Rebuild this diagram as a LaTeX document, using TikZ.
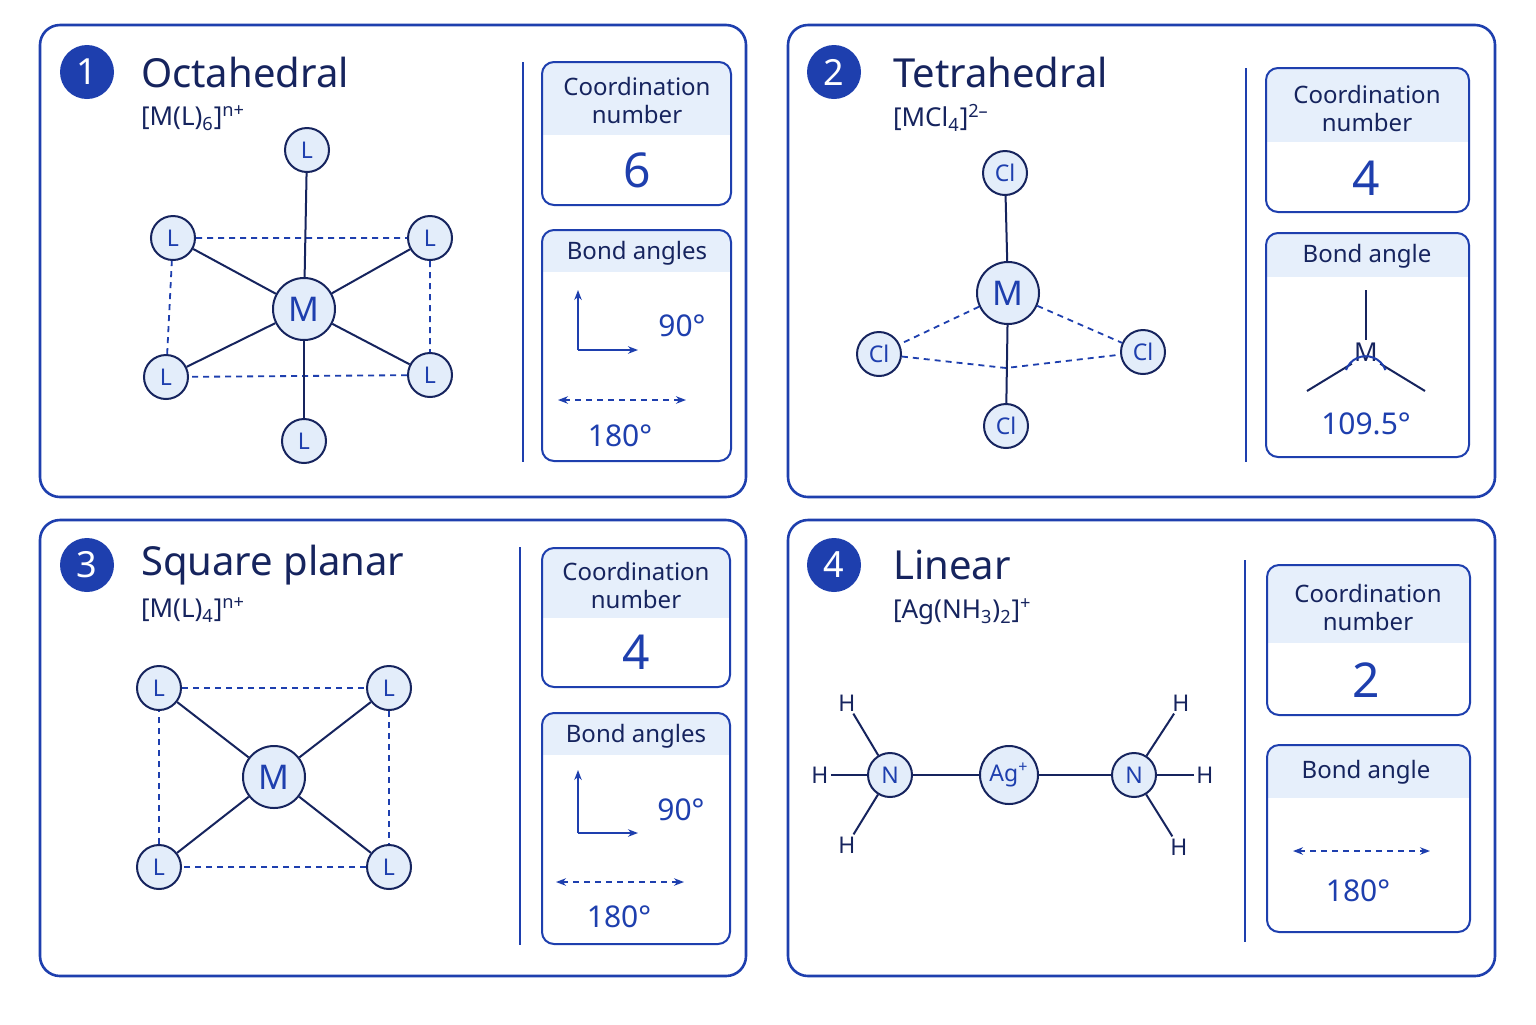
\documentclass[tikz,border=0pt]{standalone}
\usepackage{fontspec}
\setmainfont{Noto Sans}
\usetikzlibrary{arrows.meta}
\definecolor{navy}{HTML}{16245E}
\definecolor{bl}{HTML}{1E3FAE}
\definecolor{hdr}{HTML}{E6EFFB}
\definecolor{nfill}{HTML}{E3EDFA}
\newcommand\ibox[5]{%
  \begin{scope}\clip[rounded corners=6pt] (#1,#2) rectangle (#3,#4);
  \fill[hdr] (#1,#2) rectangle (#3,#5);\end{scope}
  \draw[bl,line width=1pt,rounded corners=6pt] (#1,#2) rectangle (#3,#4);}
\begin{document}
\begin{tikzpicture}[x=0.5pt,y=-0.5pt,
 panel/.style={draw=bl,line width=1.3pt,rounded corners=10pt},
 badge/.style={circle,fill=bl,text=white,minimum size=27pt,inner sep=0,font=\fontsize{18}{18}\selectfont\bfseries},
 title/.style={anchor=west,text=navy,font=\fontsize{20}{20}\selectfont\bfseries},
 formula/.style={anchor=west,text=navy,font=\fontsize{13}{13}\selectfont},
 hd/.style={text=navy,font=\fontsize{12}{14}\selectfont,align=center},
 big/.style={text=bl,font=\fontsize{24}{24}\selectfont\bfseries},
 val/.style={text=bl,font=\fontsize{15}{15}\selectfont},
 atm/.style={circle,draw=navy,line width=1pt,fill=nfill,minimum size=22pt,inner sep=0,text=bl,font=\fontsize{11.5}{12}\selectfont},
 mt/.style={atm,minimum size=31pt,font=\fontsize{17}{17}\selectfont},
 hh/.style={text=navy,inner sep=1pt,font=\fontsize{11.5}{12}\selectfont},
 bond/.style={navy,line width=1pt},
 dsh/.style={bl,line width=0.9pt,dash pattern=on 3pt off 2.5pt},
 div/.style={bl,line width=0.8pt},
 arr/.style={bl,line width=0.9pt,-{Stealth[length=5pt]}},
 darr/.style={dsh,{Stealth[length=5pt]}-{Stealth[length=5pt]}}]
\useasboundingbox (0,0) rectangle (1536,1024);
\fill[white] (0,0) rectangle (1536,1024);
% panels
\draw[panel] (40,25) rectangle (746,497);
\draw[panel] (788,25) rectangle (1495,497);
\draw[panel] (40,520) rectangle (746,976);
\draw[panel] (788,520) rectangle (1495,976);
% ===== Panel 1
\node[badge] (b1) at (87,72) {1};
\node[title] (t1) at (134,72) {Octahedral};
\node[formula] (f1) at (134,118) {[M(L)\textsubscript{6}]\textsuperscript{n+}};
\draw[div] (523,62) -- (523,462);
\ibox{542}{62}{731}{205}{135}
\node[hd] (h1a) at (637,100) {Coordination\\number};
\node[big] (n1) at (637,170) {6};
\ibox{542}{230}{731}{461}{272}
\node[hd] (h1b) at (637,253) {Bond angles};
\coordinate (c1) at (578,350);
\coordinate (c1u) at (578,290);
\coordinate (c1r) at (638,350);
\draw[arr] (c1) -- (c1u); \draw[arr] (c1) -- (c1r);
\node[val] (v1) at (682,326) {90°};
\coordinate (d1a) at (558,400); \coordinate (d1b) at (686,400);
\draw[darr] (d1a) -- (d1b);
\node[val] (v1b) at (620,436) {180°};
\node[mt] (M1) at (304,309) {M};
\node[atm] (L1t) at (307,150) {L};
\node[atm] (L1b) at (304,441) {L};
\node[atm] (L1a) at (173,238) {L};
\node[atm] (L1c) at (430,238) {L};
\node[atm] (L1d) at (166,377) {L};
\node[atm] (L1e) at (430,375) {L};
\draw[dsh] (L1a) -- (L1c) -- (L1e) -- (L1d) -- (L1a);
\draw[bond] (L1t) -- (M1); \draw[bond] (L1b) -- (M1);
\foreach \n in {L1a,L1c,L1d,L1e} \draw[bond] (\n) -- (M1);
% ===== Panel 2
\node[badge] (b2) at (834,72) {2};
\node[title] (t2) at (886,72) {Tetrahedral};
\node[formula] (f2) at (886,118) {[MCl\textsubscript{4}]\textsuperscript{2–}};
\draw[div] (1246,68) -- (1246,462);
\ibox{1266}{68}{1469}{212}{142}
\node[hd] (h2a) at (1367,108) {Coordination\\number};
\node[big] (n2) at (1366,178) {4};
\ibox{1266}{233}{1469}{457}{277}
\node[hd] (h2b) at (1367,256) {Bond angle};
\node[text=navy,inner sep=1pt,font=\fontsize{13}{13}\selectfont] (m2) at (1366,352) {M};
\coordinate (m2t) at (1366,290);
\coordinate (m2l) at (1307,391);
\coordinate (m2r) at (1425,391);
\draw[bond] (m2t) -- (m2.north);
\draw[bond] (m2l) -- (m2.south west);
\draw[bond] (m2r) -- (m2.south east);
\draw[bl,line width=1pt] (1346,370) arc[start angle=200,end angle=340,radius=21];
\node[val] (v2) at (1366,424) {109.5°};
\node[mt] (M2) at (1008,293) {M};
\node[atm] (C2t) at (1005,173) {Cl};
\node[atm] (C2l) at (879,354) {Cl};
\node[atm] (C2r) at (1143,352) {Cl};
\node[atm] (C2b) at (1006,426) {Cl};
\coordinate (c2m) at (1006,368);
\draw[dsh] (C2l) -- (c2m) -- (C2r);
\draw[dsh] (M2) -- (C2l); \draw[dsh] (M2) -- (C2r);
\draw[bond] (M2) -- (C2t); \draw[bond] (M2) -- (C2b);
% ===== Panel 3
\node[badge] (b3) at (87,565) {3};
\node[title] (t3) at (134,565) {Square planar};
\node[formula] (f3) at (134,610) {[M(L)\textsubscript{4}]\textsuperscript{n+}};
\draw[div] (520,547) -- (520,945);
\ibox{542}{548}{730}{687}{618}
\node[hd] (h3a) at (636,585) {Coordination\\number};
\node[big] (n3) at (636,652) {4};
\ibox{542}{713}{730}{944}{755}
\node[hd] (h3b) at (636,736) {Bond angles};
\coordinate (c3) at (578,833);
\coordinate (c3u) at (578,770);
\coordinate (c3r) at (638,833);
\draw[arr] (c3) -- (c3u); \draw[arr] (c3) -- (c3r);
\node[val] (v3) at (681,810) {90°};
\coordinate (d3a) at (556,882); \coordinate (d3b) at (684,882);
\draw[darr] (d3a) -- (d3b);
\node[val] (v3b) at (619,917) {180°};
\node[mt] (M3) at (274,777) {M};
\node[atm] (L3a) at (159,688) {L};
\node[atm] (L3b) at (389,688) {L};
\node[atm] (L3c) at (159,867) {L};
\node[atm] (L3d) at (389,867) {L};
\draw[dsh] (L3a) -- (L3b) -- (L3d) -- (L3c) -- (L3a);
\foreach \n in {L3a,L3b,L3c,L3d} \draw[bond] (\n) -- (M3);
% ===== Panel 4
\node[badge] (b4) at (834,565) {4};
\node[title] (t4) at (886,565) {Linear};
\node[formula] (f4) at (886,612) {[Ag(NH\textsubscript{3})\textsubscript{2}]\textsuperscript{+}};
\draw[div] (1245,560) -- (1245,942);
\ibox{1267}{565}{1470}{715}{643}
\node[hd] (h4a) at (1368,607) {Coordination\\number};
\node[big] (n4) at (1366,680) {2};
\ibox{1267}{745}{1470}{932}{798}
\node[hd] (h4b) at (1366,772) {Bond angle};
\coordinate (d4a) at (1293,851); \coordinate (d4b) at (1430,851);
\draw[darr] (d4a) -- (d4b);
\node[val] (v4) at (1358,891) {180°};
\node[atm] (N4l) at (890,775) {N};
\node[atm,minimum size=29pt] (Ag) at (1009,775) {Ag\textsuperscript{+}};
\node[atm] (N4r) at (1134,775) {N};
\node[hh] (H1) at (847,703) {H};
\node[hh] (H2) at (820,775) {H};
\node[hh] (H3) at (847,845) {H};
\node[hh] (H4) at (1181,703) {H};
\node[hh] (H5) at (1205,775) {H};
\node[hh] (H6) at (1179,847) {H};
\draw[bond] (N4l) -- (Ag) -- (N4r);
\foreach \h in {H1,H2,H3} \draw[bond] (\h) -- (N4l);
\foreach \h in {H4,H5,H6} \draw[bond] (\h) -- (N4r);
\end{tikzpicture}
\end{document}
